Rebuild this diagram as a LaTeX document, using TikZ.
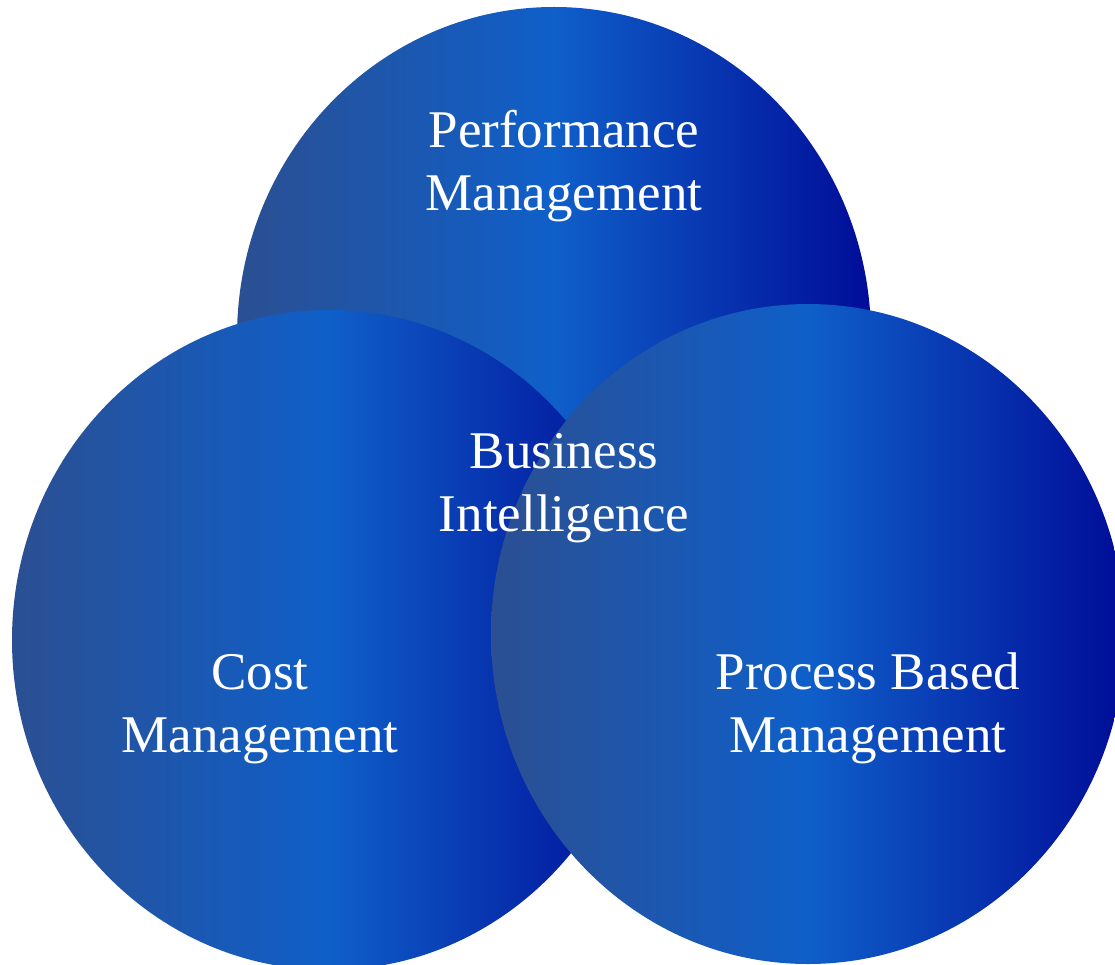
\documentclass[tikz,border=0pt]{standalone}
\usepackage{fontspec}
\setmainfont{Liberation Serif}
\definecolor{bleft}{HTML}{2B4F92}
\definecolor{bmid}{HTML}{0F5FC9}
\definecolor{bright}{HTML}{000C98}
\tikzset{
  bubble/.style={left color=bleft, right color=bright, middle color=bmid, draw=none},
  lbl/.style={text=white, align=center, anchor=base, inner sep=0pt,
    font=\fontsize{53}{63}\selectfont}
}
\begin{document}
\begin{tikzpicture}[x=1pt,y=-1pt]
\useasboundingbox (0,0) rectangle (1115,965);
\path[bubble] (554,337) ellipse [x radius=317pt, y radius=330pt];
\path[bubble] (329,640) ellipse [x radius=317pt, y radius=330pt];
\path[bubble] (808,634) ellipse [x radius=317pt, y radius=330pt];
\node[lbl] (perf) at (564,211) {Performance\\Management};
\node[lbl] (bi) at (564,531) {Business\\Intelligence};
\node[lbl] (cost) at (260,752) {Cost\\Management};
\node[lbl] (proc) at (868,752) {Process Based\\Management};
\end{tikzpicture}
\end{document}
